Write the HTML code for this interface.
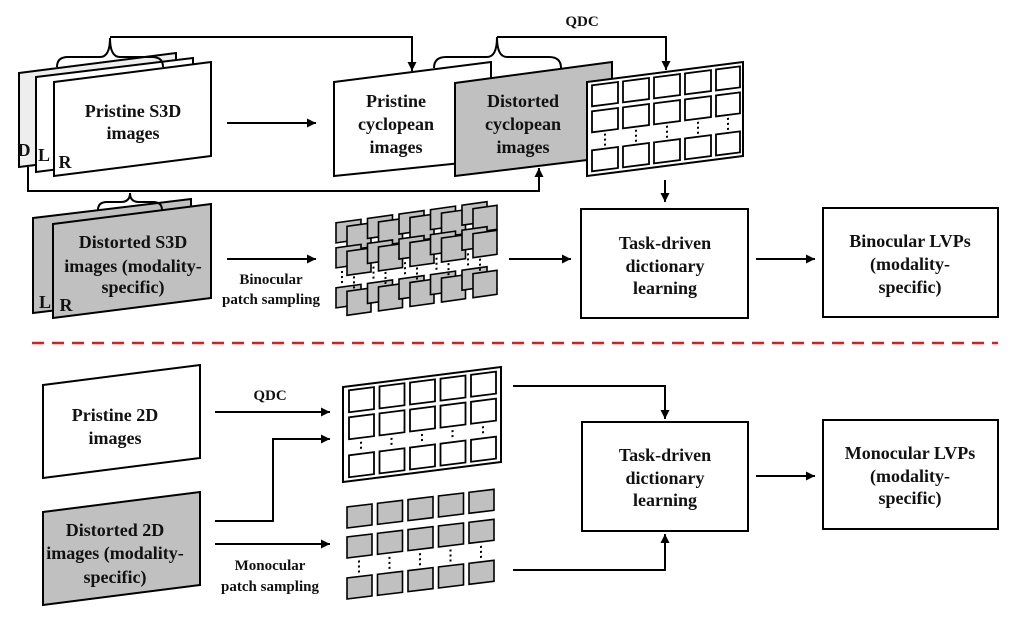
<!DOCTYPE html>
<html><head><meta charset="utf-8"><style>
html,body{margin:0;padding:0;background:#fff;}
svg{display:block;}
text{font-family:"Liberation Serif",serif;font-weight:bold;fill:#111;text-anchor:middle;dominant-baseline:central;}
.b{font-size:18px;}
.s{font-size:15px;}
</style></head><body>
<svg width="1023" height="625" viewBox="0 0 1023 625" xmlns="http://www.w3.org/2000/svg">
<defs>
<marker id="a" viewBox="0 0 10 10" refX="10" refY="5" markerWidth="9" markerHeight="9" markerUnits="userSpaceOnUse" orient="auto"><path d="M0,0 L10,5 L0,10 z" fill="#000"/></marker>
</defs>
<g stroke="#000" stroke-width="2" fill="none">
<!-- S3D pristine stack -->
<polygon points="19,73 176,53 176,148 19,167" fill="#eeeeee"/>
<polygon points="36,77 193,58 193,152 36,172" fill="#fff"/>
<polygon points="54,82 211,62 211,156 54,176" fill="#fff"/>
<!-- brace 1 -->
<path d="M57,67 Q57,57 68,57 L100,57 Q110,57 110,38 Q110,57 120,57 L152,57 Q163,57 163,67"/>
<path d="M110,37 L412,37 L412,71" marker-end="url(#a)"/>
<path d="M227,123 L316,123" marker-end="url(#a)"/>
<!-- cyclopean -->
<polygon points="334,82 491,62 491,160 334,176" fill="#fff"/>
<polygon points="455,83 612,62 612,157 455,176" fill="#c0c0c0"/>
<path d="M434,68 Q434,57 446,57 L487,57 Q497,57 497,37 Q497,57 507,57 L549,57 Q561,57 561,68"/>
<path d="M497,37 L666,37 L666,70" marker-end="url(#a)"/>
<path d="M28,167 L28,191 L539,191 L539,168" marker-end="url(#a)"/>
<!-- QDC panel top -->
<g transform="matrix(1,-0.128,0,1,0,75.1)">
<rect x="587" y="82" width="156" height="94" fill="#fff"/>
<g fill="#fff" stroke-width="1.8">
<rect x="592" y="86" width="26" height="21"/><rect x="623" y="86" width="26" height="21"/><rect x="654" y="86" width="26" height="21"/><rect x="685" y="86" width="26" height="21"/><rect x="716" y="86" width="24" height="21"/>
<rect x="592" y="112" width="26" height="21"/><rect x="623" y="112" width="26" height="21"/><rect x="654" y="112" width="26" height="21"/><rect x="685" y="112" width="26" height="21"/><rect x="716" y="112" width="24" height="21"/>
<rect x="592" y="151" width="26" height="21"/><rect x="623" y="151" width="26" height="21"/><rect x="654" y="151" width="26" height="21"/><rect x="685" y="151" width="26" height="21"/><rect x="716" y="151" width="24" height="21"/>
</g>
<g stroke-dasharray="2,3" stroke-width="2"><path d="M605,136 V149 M636,136 V149 M667,136 V149 M698,136 V149 M728,136 V149"/></g>
</g>
<path d="M665,180 L665,202" marker-end="url(#a)"/>
<!-- distorted S3D -->
<polygon points="33,218 191,199 191,294 33,313" fill="#c0c0c0"/>
<polygon points="53,224 211,204 211,298 53,318" fill="#c0c0c0"/>
<path d="M98,210 Q98,202 107,202 L121,202 Q130,202 130,193 Q130,202 139,202 L153,202 Q162,202 162,210"/>
<path d="M227,259 L316,259" marker-end="url(#a)"/>
<!-- binocular patches -->
<g transform="matrix(1,-0.14,0,1,0,46.9)" fill="#c0c0c0" stroke-width="1.6">
<g id="col">
<rect x="336" y="223" width="25" height="20"/><rect x="347" y="228" width="24" height="24"/>
<rect x="336" y="248" width="25" height="20"/><rect x="347" y="253" width="24" height="24"/>
<rect x="336" y="288" width="25" height="20"/><rect x="347" y="293" width="24" height="24"/>
<path d="M342,272 V286 M354,279 V292" fill="none" stroke-dasharray="2,3" stroke-width="2"/>
</g>
<use href="#col" x="31.5"/><use href="#col" x="63"/><use href="#col" x="94.5"/><use href="#col" x="126"/>
</g>
<path d="M509,259 L571,259" marker-end="url(#a)"/>
<rect x="581" y="209" width="167" height="109" fill="#fff"/>
<path d="M756,259 L815,259" marker-end="url(#a)"/>
<rect x="823" y="208" width="175" height="109" fill="#fff"/>
<!-- red dashed -->
<path d="M32,343 L998,343" stroke="#e21b1b" stroke-width="2.5" stroke-dasharray="12,8"/>
<!-- 2D -->
<polygon points="43,385 200,365 200,458 43,478" fill="#fff"/>
<polygon points="43,512 200,492 200,585 43,605" fill="#c0c0c0"/>
<path d="M215,412 L330,412" marker-end="url(#a)"/>
<path d="M215,521 L273,521 L273,439 L330,439" marker-end="url(#a)"/>
<path d="M215,544 L330,544" marker-end="url(#a)"/>
<!-- QDC panel bottom -->
<g transform="matrix(1,-0.127,0,1,0,43.6)">
<rect x="343" y="387" width="158" height="95" fill="#fff"/>
<g fill="#fff" stroke-width="1.8">
<g id="c2"><rect x="349" y="391" width="25" height="22"/><rect x="349" y="418" width="25" height="22"/><rect x="349" y="456" width="25" height="22"/>
<path d="M361,444 V454" fill="none" stroke-dasharray="2,3" stroke-width="2"/></g>
<use href="#c2" x="30.5"/><use href="#c2" x="61"/><use href="#c2" x="91.5"/><use href="#c2" x="122"/>
</g>
</g>
<!-- mono patches -->
<g transform="matrix(1,-0.12,0,1,0,41.6)" fill="#c0c0c0" stroke-width="1.6">
<g id="c3"><rect x="347" y="507" width="25" height="21"/><rect x="347" y="537" width="25" height="21"/><rect x="347" y="578" width="25" height="21"/>
<path d="M359,562 V575" fill="none" stroke-dasharray="2,3" stroke-width="2"/></g>
<use href="#c3" x="30.5"/><use href="#c3" x="61"/><use href="#c3" x="91.5"/><use href="#c3" x="122"/>
</g>
<path d="M513,386 L665,386 L665,419" marker-end="url(#a)"/>
<path d="M513,570 L665,570 L665,534" marker-end="url(#a)"/>
<rect x="582" y="422" width="166" height="109" fill="#fff"/>
<path d="M756,476 L815,476" marker-end="url(#a)"/>
<rect x="823" y="420" width="175" height="109" fill="#fff"/>
</g>
<!-- texts -->
<text class="s" x="582" y="22">QDC</text>
<text class="b" x="133" y="111">Pristine S3D</text>
<text class="b" x="133" y="133">images</text>
<text class="b" x="24" y="150">D</text>
<text class="b" x="44" y="155">L</text>
<text class="b" x="65" y="162">R</text>
<text class="b" x="396" y="101">Pristine</text>
<text class="b" x="396" y="124">cyclopean</text>
<text class="b" x="396" y="147">images</text>
<text class="b" x="523" y="101">Distorted</text>
<text class="b" x="523" y="124">cyclopean</text>
<text class="b" x="523" y="147">images</text>
<text class="b" x="133" y="242">Distorted S3D</text>
<text class="b" x="133" y="266">images (modality-</text>
<text class="b" x="133" y="287">specific)</text>
<text class="b" x="45" y="302">L</text>
<text class="b" x="66" y="305">R</text>
<text class="s" x="271" y="280">Binocular</text>
<text class="s" x="271" y="300">patch sampling</text>
<text class="b" x="665" y="243">Task-driven</text>
<text class="b" x="665" y="266">dictionary</text>
<text class="b" x="665" y="288">learning</text>
<text class="b" x="910" y="241">Binocular LVPs</text>
<text class="b" x="910" y="264">(modality-</text>
<text class="b" x="910" y="287">specific)</text>
<text class="b" x="115" y="415">Pristine 2D</text>
<text class="b" x="115" y="438">images</text>
<text class="s" x="270" y="396">QDC</text>
<text class="b" x="115" y="530">Distorted 2D</text>
<text class="b" x="115" y="553">images (modality-</text>
<text class="b" x="115" y="577">specific)</text>
<text class="s" x="270" y="566">Monocular</text>
<text class="s" x="270" y="587">patch sampling</text>
<text class="b" x="665" y="455">Task-driven</text>
<text class="b" x="665" y="478">dictionary</text>
<text class="b" x="665" y="500">learning</text>
<text class="b" x="910" y="453">Monocular LVPs</text>
<text class="b" x="910" y="476">(modality-</text>
<text class="b" x="910" y="498">specific)</text>
</svg>
</body></html>
